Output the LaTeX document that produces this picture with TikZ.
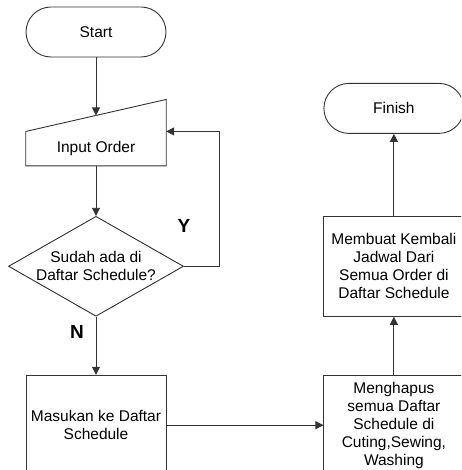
\documentclass[tikz,border=0pt]{standalone}
\usepackage{fontspec}
\setmainfont{Liberation Sans}
\usetikzlibrary{positioning, arrows.meta, shapes.geometric}
\tikzset{
  term1/.style = {
    shape = rectangle,
    draw = black!80,
    line width = 0.9pt,
    rounded corners = 25pt,
    minimum width = 140pt,
    minimum height = 50pt,
    align = center,
    font = \fontsize{15.5}{18}\selectfont,
  }
}
\tikzset{
  io1/.style = {
    shape = rectangle,
    minimum width = 140pt,
    minimum height = 34pt,
    inner sep = 0pt,
    align = center,
    font = \fontsize{15.5}{18}\selectfont,
  }
}
\tikzset{
  dec1/.style = {
    shape = diamond,
    draw = black!80,
    line width = 0.9pt,
    aspect = 1.75,
    inner sep = -12pt,
    minimum width = 175pt,
    minimum height = 100pt,
    align = center,
    font = \fontsize{15.5}{18}\selectfont,
  }
}
\tikzset{
  rect1/.style = {
    shape = rectangle,
    draw = black!80,
    line width = 0.9pt,
    minimum width = 140pt,
    minimum height = 100pt,
    align = center,
    font = \fontsize{15.5}{18}\selectfont,
  }
}
\tikzset{
  lab1/.style = {
    font = \fontsize{19}{22}\selectfont\bfseries,
  }
}
\tikzset{
  arrow1/.style = {
    draw = black!80, line width = 0.9pt, -{Triangle[length = 8pt, width = 8pt]},
  }
}

\begin{document}
\begin{tikzpicture}
            \clip (-96pt,32pt) rectangle (365pt,-438pt);
            \node[term1](start) at (0,0){Start};
            \node[io1, below=74pt of start](input){Input Order};
            \draw[draw = black!80, line width = 0.9pt] (input.south west) -- (input.south east) -- ([yshift=32pt]input.north east) -- (input.north west) -- cycle;
            \coordinate (inputtop) at ([yshift=16pt]input.north);
            \node[dec1, below=50pt of input](dec){Sudah ada di\\Daftar Schedule?};
            \node[rect1, below=58pt of dec](masuk){Masukan ke Daftar\\Schedule};
            \node[rect1, right=157pt of masuk](hapus){Menghapus\\semua Daftar\\Schedule di\\Cuting,Sewing,\\Washing};
            \node[rect1, above=58pt of hapus](buat){Membuat Kembali\\Jadwal Dari\\Semua Order di\\Daftar Schedule};
            \node[term1, above=82pt of buat](finish){Finish};
            \node[lab1](ylab) at ([yshift=40pt]dec.east){Y};
            \node[lab1](nlab) at ([xshift=-19pt, yshift=-15pt]dec.south){N};
            \draw[arrow1](start) -- (inputtop);
            \draw[arrow1](input) -- (dec);
            \draw[arrow1](dec.east) -- ++(35pt,0) |- (input.north east);
            \draw[arrow1](dec) -- (masuk);
            \draw[arrow1](masuk) -- (hapus);
            \draw[arrow1](hapus) -- (buat);
            \draw[arrow1](buat) -- (finish);
        \end{tikzpicture}
\end{document}
